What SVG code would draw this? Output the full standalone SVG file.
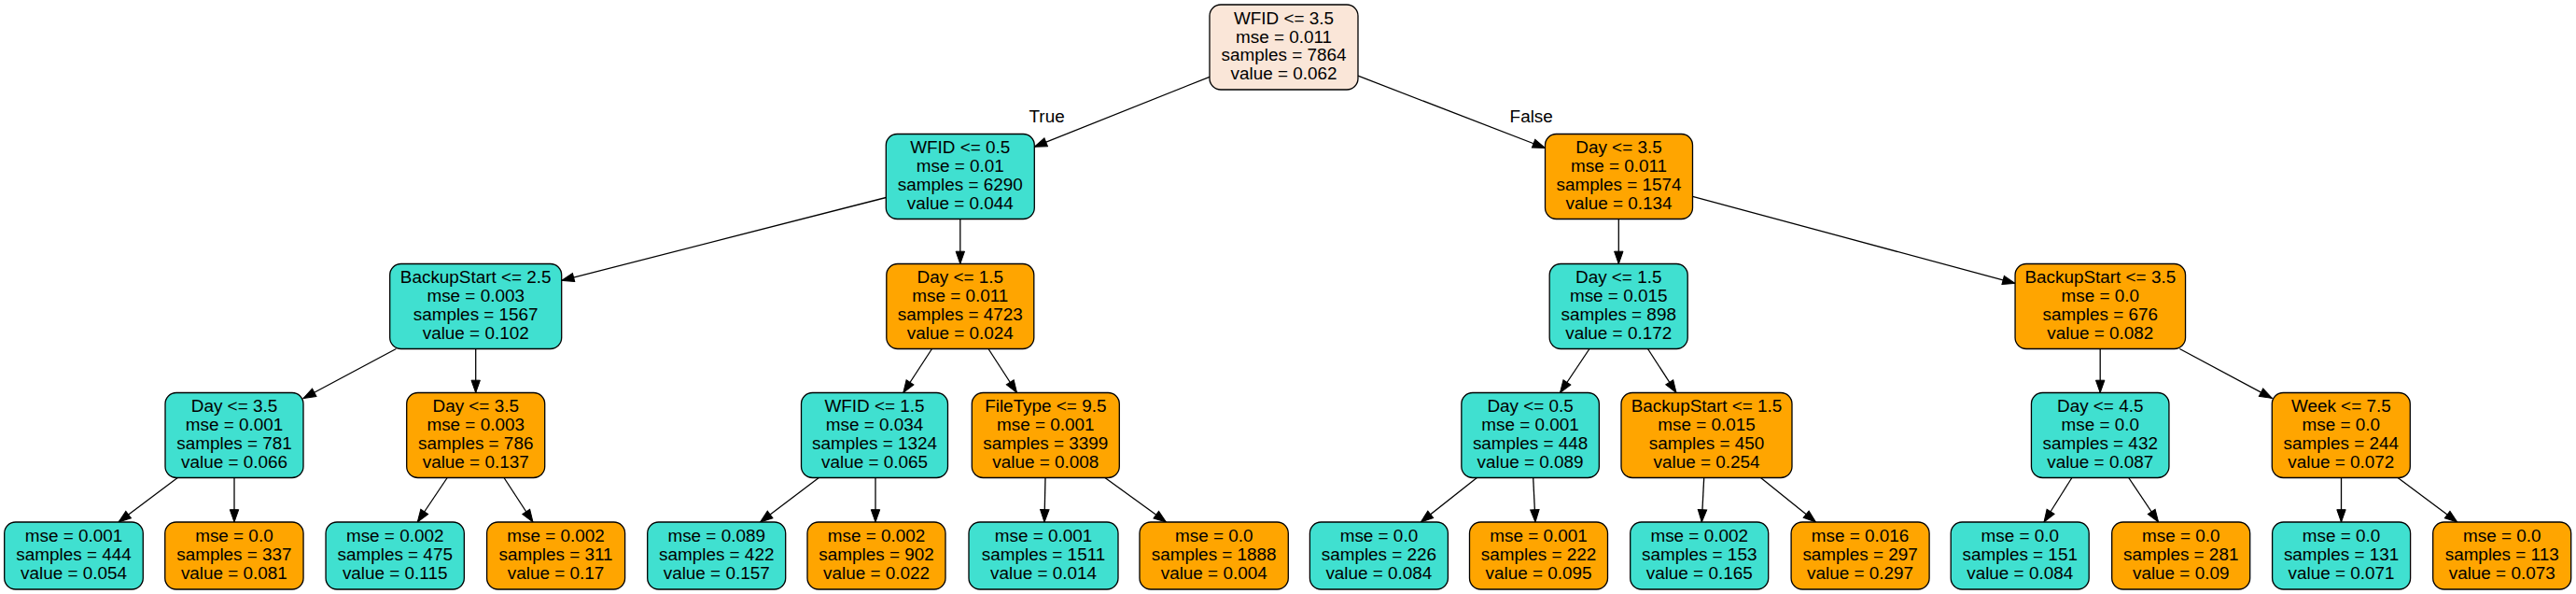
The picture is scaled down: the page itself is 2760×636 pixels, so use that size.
<svg xmlns="http://www.w3.org/2000/svg" width="2760" height="636" viewBox="0 0 2760 636">
<style>
rect{stroke:#000;stroke-width:1.3}
.r{fill:#fae6d8}.t{fill:#40e0d0}.o{fill:#ffa500}
text{font-family:"Liberation Sans",Arial,Helvetica,sans-serif;font-size:18.9px;fill:#000;text-anchor:middle}
#edges line{stroke:#000;stroke-width:1.3;marker-end:url(#ah)}
</style>
<defs>
<marker id="ah" markerUnits="userSpaceOnUse" markerWidth="14" markerHeight="10" refX="13.3" refY="4.7" orient="auto" overflow="visible">
<path d="M0,0 L13.3,4.7 L0,9.4 Z" fill="#000" stroke="#000" stroke-width="1"/>
</marker>
</defs>
<rect x="0" y="0" width="2760" height="636" fill="#fff" style="stroke:none"/>
<g id="edges">
<line x1="1296" y1="82.3" x2="1108.3" y2="157.2"/>
<line x1="1455" y1="81.2" x2="1655.5" y2="158.5"/>
<line x1="949.3" y1="211.5" x2="601.7" y2="300.3"/>
<line x1="1028.8" y1="234.5" x2="1028.8" y2="282.5"/>
<line x1="1734.3" y1="234.5" x2="1734.3" y2="282.5"/>
<line x1="1813.5" y1="210.3" x2="2159" y2="303.4"/>
<line x1="424.4" y1="373.5" x2="325" y2="426.5"/>
<line x1="509.7" y1="373.5" x2="509.7" y2="420.5"/>
<line x1="998.5" y1="373.5" x2="967.8" y2="420.5"/>
<line x1="1059" y1="373.5" x2="1089.5" y2="420.5"/>
<line x1="1703" y1="373.5" x2="1671.5" y2="420.5"/>
<line x1="1765.5" y1="373.5" x2="1796" y2="420.5"/>
<line x1="2250.2" y1="373.5" x2="2250.2" y2="420.5"/>
<line x1="2335.4" y1="373.5" x2="2434.3" y2="426.4"/>
<line x1="190.3" y1="511.5" x2="127" y2="559"/>
<line x1="251" y1="511.5" x2="251" y2="559"/>
<line x1="479.2" y1="511.5" x2="447.3" y2="559"/>
<line x1="540" y1="511.5" x2="571" y2="559"/>
<line x1="877.3" y1="511.5" x2="814.5" y2="559"/>
<line x1="938" y1="511.5" x2="938" y2="559"/>
<line x1="1120" y1="511.5" x2="1119" y2="559"/>
<line x1="1183.9" y1="511.5" x2="1249.5" y2="559"/>
<line x1="1582.4" y1="511.5" x2="1522.3" y2="559"/>
<line x1="1642.7" y1="511.5" x2="1645" y2="559"/>
<line x1="1825.7" y1="511.5" x2="1823.3" y2="559"/>
<line x1="1886.5" y1="511.5" x2="1945.5" y2="559"/>
<line x1="2219.9" y1="511.5" x2="2190" y2="559"/>
<line x1="2280.7" y1="511.5" x2="2312.6" y2="559"/>
<line x1="2508.5" y1="511.5" x2="2508.5" y2="559"/>
<line x1="2569.1" y1="511.5" x2="2632.8" y2="559"/>
<text x="1121.6" y="131">True</text>
<text x="1640.7" y="131">False</text>
</g>
<g id="n0"><rect class="r" x="1296" y="5" width="159" height="91" rx="12"/><text x="1375.5" y="25.9">WFID &lt;= 3.5</text><text x="1375.5" y="45.6">mse = 0.011</text><text x="1375.5" y="65.3">samples = 7864</text><text x="1375.5" y="85">value = 0.062</text></g>
<g id="n1"><rect class="t" x="949.3" y="143.5" width="159" height="91" rx="12"/><text x="1028.8" y="164.4">WFID &lt;= 0.5</text><text x="1028.8" y="184.1">mse = 0.01</text><text x="1028.8" y="203.8">samples = 6290</text><text x="1028.8" y="223.5">value = 0.044</text></g>
<g id="n2"><rect class="o" x="1655.5" y="143.5" width="158" height="91" rx="12"/><text x="1734.5" y="164.4">Day &lt;= 3.5</text><text x="1734.5" y="184.1">mse = 0.011</text><text x="1734.5" y="203.8">samples = 1574</text><text x="1734.5" y="223.5">value = 0.134</text></g>
<g id="n3"><rect class="t" x="417.7" y="282.5" width="184" height="91" rx="12"/><text x="509.7" y="303.4">BackupStart &lt;= 2.5</text><text x="509.7" y="323.1">mse = 0.003</text><text x="509.7" y="342.8">samples = 1567</text><text x="509.7" y="362.5">value = 0.102</text></g>
<g id="n4"><rect class="o" x="949.8" y="282.5" width="158" height="91" rx="12"/><text x="1028.8" y="303.4">Day &lt;= 1.5</text><text x="1028.8" y="323.1">mse = 0.011</text><text x="1028.8" y="342.8">samples = 4723</text><text x="1028.8" y="362.5">value = 0.024</text></g>
<g id="n5"><rect class="t" x="1660.2" y="282.5" width="148" height="91" rx="12"/><text x="1734.2" y="303.4">Day &lt;= 1.5</text><text x="1734.2" y="323.1">mse = 0.015</text><text x="1734.2" y="342.8">samples = 898</text><text x="1734.2" y="362.5">value = 0.172</text></g>
<g id="n6"><rect class="o" x="2159.05" y="282.5" width="182.5" height="91" rx="12"/><text x="2250.3" y="303.4">BackupStart &lt;= 3.5</text><text x="2250.3" y="323.1">mse = 0.0</text><text x="2250.3" y="342.8">samples = 676</text><text x="2250.3" y="362.5">value = 0.082</text></g>
<g id="n7"><rect class="t" x="177" y="420.5" width="148" height="91" rx="12"/><text x="251" y="441.4">Day &lt;= 3.5</text><text x="251" y="461.1">mse = 0.001</text><text x="251" y="480.8">samples = 781</text><text x="251" y="500.5">value = 0.066</text></g>
<g id="n8"><rect class="o" x="435.7" y="420.5" width="148" height="91" rx="12"/><text x="509.7" y="441.4">Day &lt;= 3.5</text><text x="509.7" y="461.1">mse = 0.003</text><text x="509.7" y="480.8">samples = 786</text><text x="509.7" y="500.5">value = 0.137</text></g>
<g id="n9"><rect class="t" x="858.5" y="420.5" width="157" height="91" rx="12"/><text x="937" y="441.4">WFID &lt;= 1.5</text><text x="937" y="461.1">mse = 0.034</text><text x="937" y="480.8">samples = 1324</text><text x="937" y="500.5">value = 0.065</text></g>
<g id="n10"><rect class="o" x="1041.3" y="420.5" width="158" height="91" rx="12"/><text x="1120.3" y="441.4">FileType &lt;= 9.5</text><text x="1120.3" y="461.1">mse = 0.001</text><text x="1120.3" y="480.8">samples = 3399</text><text x="1120.3" y="500.5">value = 0.008</text></g>
<g id="n11"><rect class="t" x="1565.85" y="420.5" width="147.5" height="91" rx="12"/><text x="1639.6" y="441.4">Day &lt;= 0.5</text><text x="1639.6" y="461.1">mse = 0.001</text><text x="1639.6" y="480.8">samples = 448</text><text x="1639.6" y="500.5">value = 0.089</text></g>
<g id="n12"><rect class="o" x="1737" y="420.5" width="183" height="91" rx="12"/><text x="1828.5" y="441.4">BackupStart &lt;= 1.5</text><text x="1828.5" y="461.1">mse = 0.015</text><text x="1828.5" y="480.8">samples = 450</text><text x="1828.5" y="500.5">value = 0.254</text></g>
<g id="n13"><rect class="t" x="2176.45" y="420.5" width="147.5" height="91" rx="12"/><text x="2250.2" y="441.4">Day &lt;= 4.5</text><text x="2250.2" y="461.1">mse = 0.0</text><text x="2250.2" y="480.8">samples = 432</text><text x="2250.2" y="500.5">value = 0.087</text></g>
<g id="n14"><rect class="o" x="2434.3" y="420.5" width="148" height="91" rx="12"/><text x="2508.3" y="441.4">Week &lt;= 7.5</text><text x="2508.3" y="461.1">mse = 0.0</text><text x="2508.3" y="480.8">samples = 244</text><text x="2508.3" y="500.5">value = 0.072</text></g>
<g id="l1"><rect class="t" x="4.7" y="559" width="148.6" height="72" rx="12"/><text x="79" y="580.4">mse = 0.001</text><text x="79" y="600">samples = 444</text><text x="79" y="619.6">value = 0.054</text></g>
<g id="l2"><rect class="o" x="176.75" y="559" width="148.3" height="72" rx="12"/><text x="250.9" y="580.4">mse = 0.0</text><text x="250.9" y="600">samples = 337</text><text x="250.9" y="619.6">value = 0.081</text></g>
<g id="l3"><rect class="t" x="349.05" y="559" width="148.3" height="72" rx="12"/><text x="423.2" y="580.4">mse = 0.002</text><text x="423.2" y="600">samples = 475</text><text x="423.2" y="619.6">value = 0.115</text></g>
<g id="l4"><rect class="o" x="521.6" y="559" width="148" height="72" rx="12"/><text x="595.6" y="580.4">mse = 0.002</text><text x="595.6" y="600">samples = 311</text><text x="595.6" y="619.6">value = 0.17</text></g>
<g id="l5"><rect class="t" x="693.7" y="559" width="148" height="72" rx="12"/><text x="767.7" y="580.4">mse = 0.089</text><text x="767.7" y="600">samples = 422</text><text x="767.7" y="619.6">value = 0.157</text></g>
<g id="l6"><rect class="o" x="865" y="559" width="148" height="72" rx="12"/><text x="939" y="580.4">mse = 0.002</text><text x="939" y="600">samples = 902</text><text x="939" y="619.6">value = 0.022</text></g>
<g id="l7"><rect class="t" x="1038" y="559" width="160" height="72" rx="12"/><text x="1118" y="580.4">mse = 0.001</text><text x="1118" y="600">samples = 1511</text><text x="1118" y="619.6">value = 0.014</text></g>
<g id="l8"><rect class="o" x="1221" y="559" width="159.3" height="72" rx="12"/><text x="1300.7" y="580.4">mse = 0.0</text><text x="1300.7" y="600">samples = 1888</text><text x="1300.7" y="619.6">value = 0.004</text></g>
<g id="l9"><rect class="t" x="1403.4" y="559" width="148" height="72" rx="12"/><text x="1477.4" y="580.4">mse = 0.0</text><text x="1477.4" y="600">samples = 226</text><text x="1477.4" y="619.6">value = 0.084</text></g>
<g id="l10"><rect class="o" x="1574.5" y="559" width="148" height="72" rx="12"/><text x="1648.5" y="580.4">mse = 0.001</text><text x="1648.5" y="600">samples = 222</text><text x="1648.5" y="619.6">value = 0.095</text></g>
<g id="l11"><rect class="t" x="1746.7" y="559" width="148" height="72" rx="12"/><text x="1820.7" y="580.4">mse = 0.002</text><text x="1820.7" y="600">samples = 153</text><text x="1820.7" y="619.6">value = 0.165</text></g>
<g id="l12"><rect class="o" x="1919.1" y="559" width="148" height="72" rx="12"/><text x="1993.1" y="580.4">mse = 0.016</text><text x="1993.1" y="600">samples = 297</text><text x="1993.1" y="619.6">value = 0.297</text></g>
<g id="l13"><rect class="t" x="2090.2" y="559" width="148" height="72" rx="12"/><text x="2164.2" y="580.4">mse = 0.0</text><text x="2164.2" y="600">samples = 151</text><text x="2164.2" y="619.6">value = 0.084</text></g>
<g id="l14"><rect class="o" x="2262.7" y="559" width="148" height="72" rx="12"/><text x="2336.7" y="580.4">mse = 0.0</text><text x="2336.7" y="600">samples = 281</text><text x="2336.7" y="619.6">value = 0.09</text></g>
<g id="l15"><rect class="t" x="2434.6" y="559" width="148" height="72" rx="12"/><text x="2508.6" y="580.4">mse = 0.0</text><text x="2508.6" y="600">samples = 131</text><text x="2508.6" y="619.6">value = 0.071</text></g>
<g id="l16"><rect class="o" x="2606.7" y="559" width="148" height="72" rx="12"/><text x="2680.7" y="580.4">mse = 0.0</text><text x="2680.7" y="600">samples = 113</text><text x="2680.7" y="619.6">value = 0.073</text></g>
</svg>
